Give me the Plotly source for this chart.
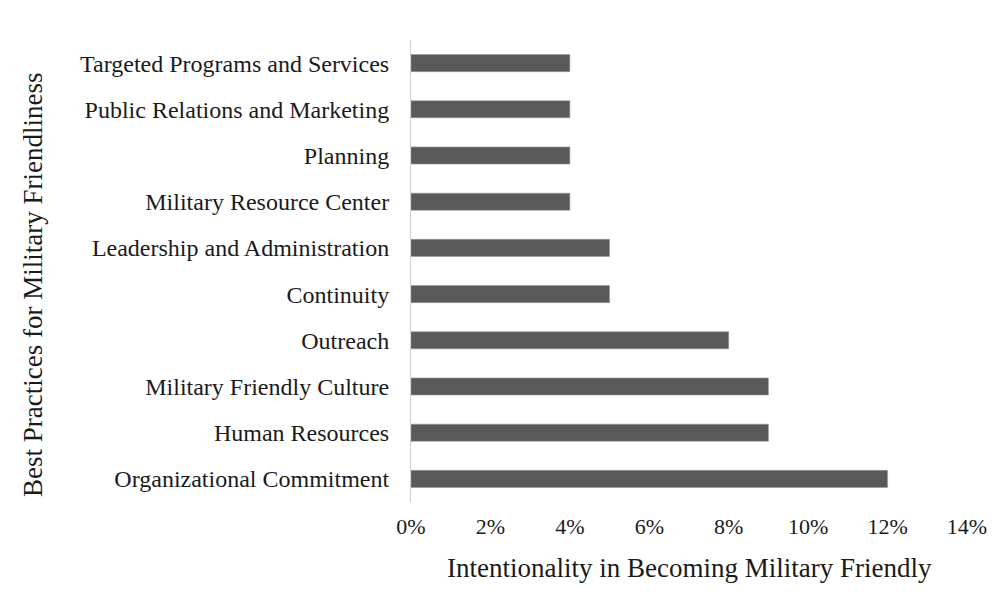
import plotly.graph_objects as go

categories = [
    "Organizational Commitment",
    "Human Resources",
    "Military Friendly Culture",
    "Outreach",
    "Continuity",
    "Leadership and Administration",
    "Military Resource Center",
    "Planning",
    "Public Relations and Marketing",
    "Targeted Programs and Services",
]
values = [0.12, 0.09, 0.09, 0.08, 0.05, 0.05, 0.04, 0.04, 0.04, 0.04]
x_ticks = [0, 0.02, 0.04, 0.06, 0.08, 0.10, 0.12, 0.14]
x_tick_labels = ["0%", "2%", "4%", "6%", "8%", "10%", "12%", "14%"]

FONT = "Liberation Serif, Times New Roman, serif"
TXT = "#1a1a1a"

fig = go.Figure(go.Bar(
    y=categories, x=values, orientation="h",
    marker=dict(color="#595959", line=dict(color="#9a9a9a", width=0.6)),
    width=0.37,
))

fig.update_layout(
    width=989, height=589,
    margin=dict(l=403, r=30, t=32, b=95, autoexpand=False),
    paper_bgcolor="white", plot_bgcolor="white",
    showlegend=False,
    font=dict(family=FONT, size=22, color=TXT),
    xaxis=dict(
        range=[0, 0.14], tickvals=x_ticks, ticktext=x_tick_labels,
        showgrid=False, zeroline=False, showline=False,
        ticks="", ticklabelstandoff=9,
        tickfont=dict(family=FONT, size=22, color=TXT),
        automargin=False,
    ),
    yaxis=dict(
        categoryorder="array", categoryarray=categories,
        range=[-0.5, 9.5],
        showgrid=False, zeroline=False,
        showline=True, linecolor="#d0d0d0", linewidth=1,
        ticks="", ticklabelstandoff=16,
        tickfont=dict(family=FONT, size=24, color=TXT),
        automargin=False,
    ),
    annotations=[
        dict(text="Intentionality in Becoming Military Friendly",
             xref="paper", yref="paper", x=0.501, y=-0.1429,
             xanchor="center", yanchor="middle", showarrow=False,
             font=dict(family=FONT, size=27, color=TXT)),
        dict(text="Best Practices for Military Friendliness",
             xref="paper", yref="paper", x=-0.680, y=0.4697,
             xanchor="center", yanchor="middle", showarrow=False, textangle=-90,
             font=dict(family=FONT, size=27, color=TXT)),
    ],
)

fig.write_html("out.html")
